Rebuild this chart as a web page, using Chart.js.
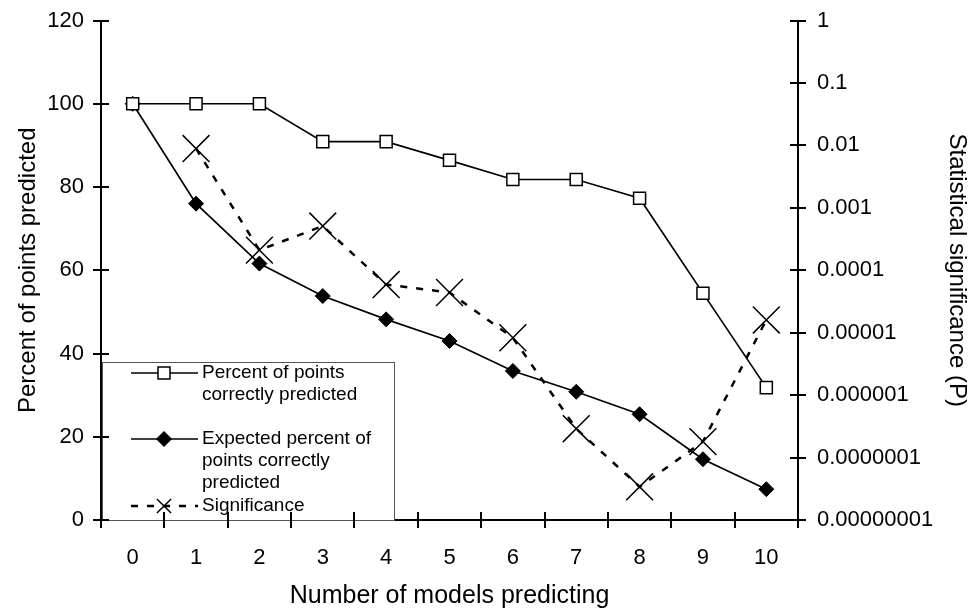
<!DOCTYPE html>
<html><head><meta charset="utf-8">
<script src="https://cdn.jsdelivr.net/npm/chart.js@4/dist/chart.umd.min.js"></script>
<style>html,body{margin:0;padding:0;background:#fff;overflow:hidden}#wrap{width:974px;height:612px}</style>
</head><body><div id="wrap"><canvas id="c" width="974" height="612"></canvas></div>
<script>
const categories = ['0','1','2','3','4','5','6','7','8','9','10'];
const percentCorrect = [100,100,100,90.9,90.9,86.4,81.8,81.8,77.3,54.5,31.8];
const expectedPercent = [100,76.0,61.6,53.8,48.2,43.0,35.8,30.8,25.4,14.6,7.4];
const significance = [null,0.0089,0.00021,0.00051,0.000059,0.000044,0.0000083,0.00000029,0.000000034,0.00000018,0.000016];
const leftTicks = [0,20,40,60,80,100,120];
const rightTicks = [1e-8,1e-7,1e-6,1e-5,1e-4,1e-3,1e-2,1e-1,1];
const rightTickLabels = ['0.00000001','0.0000001','0.000001','0.00001','0.0001','0.001','0.01','0.1','1'];
const seriesNames = [['Percent of points','correctly predicted'],['Expected percent of','points correctly','predicted'],['Significance']];
const xTitle = 'Number of models predicting';
const yTitle = 'Percent of points predicted';
const y1Title = 'Statistical significance (P)';

const FONT = "'Liberation Sans', Arial, sans-serif";
const DASH = [7,9];
const CLEAR = 'rgba(0,0,0,0)';

const crossTicks = {
  id:'crossTicks',
  afterDraw(chart){
    const ctx = chart.ctx, a = chart.chartArea;
    const x = chart.scales.x, y = chart.scales.y, y1 = chart.scales.y1;
    ctx.save();
    ctx.strokeStyle='#000'; ctx.lineWidth=2; ctx.setLineDash([]);
    const L = 8;
    const n = categories.length;
    const step = (x.getPixelForValue(1)-x.getPixelForValue(0));
    for(let i=0;i<=n;i++){
      const px = Math.round(x.getPixelForValue(0) - step/2 + i*step);
      ctx.beginPath(); ctx.moveTo(px, a.bottom-L); ctx.lineTo(px, a.bottom+L); ctx.stroke();
    }
    leftTicks.forEach(v=>{
      const py = Math.round(y.getPixelForValue(v));
      ctx.beginPath(); ctx.moveTo(a.left-L, py); ctx.lineTo(a.left+L, py); ctx.stroke();
    });
    rightTicks.forEach(v=>{
      const py = Math.round(y1.getPixelForValue(v));
      ctx.beginPath(); ctx.moveTo(a.right-L, py); ctx.lineTo(a.right+L, py); ctx.stroke();
    });
    ctx.restore();
  }
};

const boxLegend = {
  id:'boxLegend',
  afterDatasetsDraw(chart){
    const ctx = chart.ctx, a = chart.chartArea;
    const bx = a.left+1, by = a.bottom-158, bw = 292, bh = 158;
    ctx.save();
    ctx.fillStyle='#fff'; ctx.fillRect(bx,by,bw,bh);
    ctx.strokeStyle='#555'; ctx.lineWidth=1; ctx.strokeRect(bx+0.5,by+0.5,bw,bh);
    const entries = [
      {ds:0, y:a.bottom-147},
      {ds:1, y:a.bottom-81},
      {ds:2, y:a.bottom-14}
    ];
    ctx.textBaseline='middle'; ctx.textAlign='left';
    entries.forEach(e=>{
      const d = chart.data.datasets[e.ds];
      ctx.strokeStyle='#000'; ctx.lineWidth=d.borderWidth;
      ctx.setLineDash(d.borderDash||[]);
      ctx.beginPath(); ctx.moveTo(a.left+30,e.y); ctx.lineTo(a.left+97,e.y); ctx.stroke();
      ctx.setLineDash([]);
      ctx.fillStyle = d.pointBackgroundColor; ctx.strokeStyle='#000'; ctx.lineWidth=d.pointBorderWidth;
      Chart.helpers.drawPoint(ctx,{pointStyle:d.pointStyle,radius:e.ds===2?10:d.pointRadius,rotation:0,borderWidth:d.pointBorderWidth},a.left+63,e.y);
      ctx.fillStyle='#000';
      ctx.font = "19px "+FONT;
      seriesNames[e.ds].forEach((t,i)=>ctx.fillText(t, a.left+101, e.y + i*22));
    });
    ctx.restore();
  }
};

new Chart(document.getElementById('c'),{
  type:'line',
  data:{
    labels:categories,
    datasets:[
      {label:seriesNames[0].join(' '), data:percentCorrect, yAxisID:'y', borderColor:'#000', borderWidth:1.7,
       pointStyle:'rect', pointRadius:8.5, pointBackgroundColor:'#fff', pointBorderColor:'#000', pointBorderWidth:1.5, tension:0},
      {label:seriesNames[1].join(' '), data:expectedPercent, yAxisID:'y', borderColor:'#000', borderWidth:1.7,
       pointStyle:'rectRot', pointRadius:7.5, pointBackgroundColor:'#000', pointBorderColor:'#000', pointBorderWidth:1, tension:0},
      {label:seriesNames[2][0], data:significance, yAxisID:'y1', borderColor:'#000', borderWidth:2.5, borderDash:DASH,
       pointStyle:'crossRot', pointRadius:19, pointBackgroundColor:'#000', pointBorderColor:'#000', pointBorderWidth:1.5, tension:0, spanGaps:false}
    ]
  },
  options:{
    responsive:false, animation:false, devicePixelRatio:1,
    layout:{padding:{top:20,left:0,right:0,bottom:0}},
    plugins:{legend:{display:false},tooltip:{enabled:false}},
    scales:{
      x:{type:'category', offset:true,
        grid:{display:true,drawOnChartArea:false,drawTicks:true,tickLength:25,offset:true,color:CLEAR},
        border:{display:true,color:'#000',width:2},
        ticks:{color:'#000',font:{family:FONT,size:22},padding:0,maxRotation:0,autoSkip:false},
        title:{display:true,text:xTitle,color:'#000',font:{family:FONT,size:25},padding:{top:0,bottom:1}},
        afterFit(s){s.height=92;}
      },
      y:{type:'linear',position:'left',min:0,max:120,
        grid:{display:true,drawOnChartArea:false,drawTicks:true,tickLength:17,color:CLEAR},
        border:{display:true,color:'#000',width:2},
        afterBuildTicks(s){s.ticks=leftTicks.map(v=>({value:v}));},
        ticks:{color:'#000',font:{family:FONT,size:22},padding:0},
        title:{display:true,text:yTitle,color:'#000',font:{family:FONT,size:24},padding:{top:14,bottom:0}},
        afterFit(s){s.width=101;}
      },
      y1:{type:'logarithmic',position:'right',min:1e-8,max:1,
        grid:{display:true,drawOnChartArea:false,drawTicks:true,tickLength:19,color:CLEAR},
        border:{display:true,color:'#000',width:2},
        afterBuildTicks(s){s.ticks=rightTicks.map(v=>({value:v}));},
        ticks:{color:'#000',font:{family:FONT,size:22},padding:0,
          callback(v){const i=rightTicks.findIndex(t=>Math.abs(Math.log10(t)-Math.log10(v))<1e-6);return i>=0?rightTickLabels[i]:'';}},
        title:{display:true,text:y1Title,color:'#000',font:{family:FONT,size:24},padding:{top:3,bottom:0}},
        afterFit(s){s.width=176;}
      }
    }
  },
  plugins:[boxLegend,crossTicks]
});
</script></body></html>
